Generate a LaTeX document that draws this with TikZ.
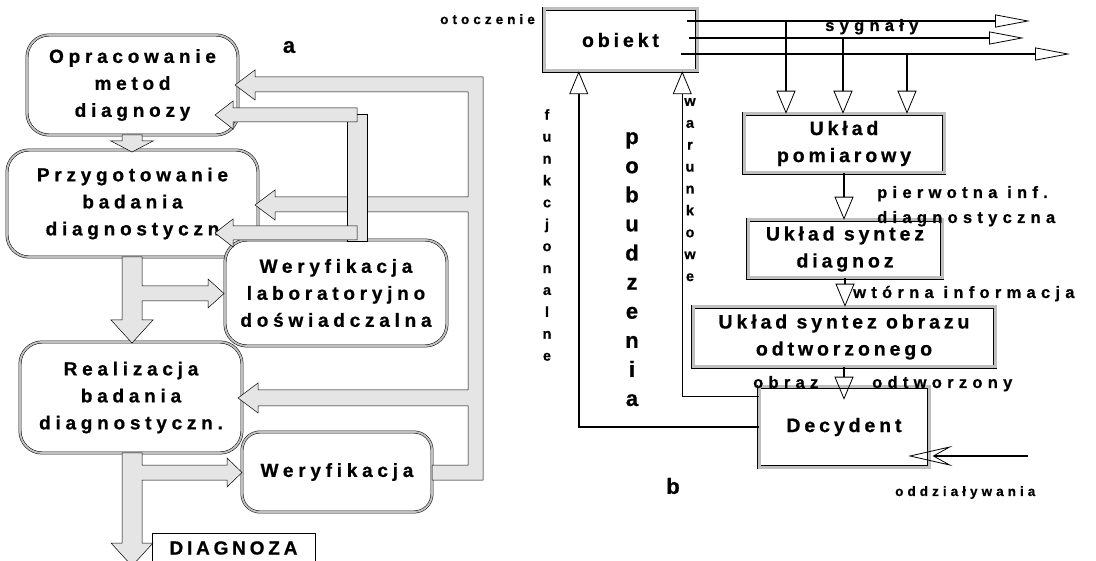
\documentclass[tikz,border=0pt]{standalone}
\usepackage{fontspec}
\setmainfont{Liberation Sans}[BoldFeatures={FakeBold=0.7}]
\newfontfamily\lsA{Liberation Sans}[LetterSpace=25, BoldFeatures={FakeBold=0.7}]
\newfontfamily\lsB{Liberation Sans}[LetterSpace=20, BoldFeatures={FakeBold=0.7}]
\newfontfamily\lsC{Liberation Sans}[LetterSpace=32, BoldFeatures={FakeBold=0.7}]
\newfontfamily\lsD{Liberation Sans}[LetterSpace=30, BoldFeatures={FakeBold=0.7}]
\usetikzlibrary{arrows.meta,calc}
\tikzset{
 rbox/.style={draw=black, line width=0.5pt, double=gray!50, double distance=1.9pt, rounded corners=22pt, fill=white, inner sep=0pt, align=center, font=\lsA\bfseries\fontsize{19}{27}\selectfont},
 sbox/.style={draw=black, line width=0.5pt, double=gray!50, double distance=3pt, fill=white, inner sep=0pt, align=center, font=\lsB\bfseries\fontsize{19.5}{27}\selectfont},
 fat/.style={draw=black, line width=0.5pt, fill=gray!20},
 sig/.style={line width=1.5pt, -{Triangle[open, length=35pt, width=13pt, line width=0.8pt]}},
 drop/.style={line width=1.5pt, -{Triangle[open, length=23pt, width=19pt, line width=0.8pt]}},
 lbl/.style={font=\lsC\bfseries\fontsize{16.5}{25}\selectfont, inner sep=0pt},
 slbl/.style={font=\lsD\bfseries\fontsize{13.5}{20}\selectfont, inner sep=0pt},
 vtxt/.style={align=center, inner sep=0pt, anchor=north},
}
\begin{document}
\begin{tikzpicture}[x=1pt,y=-1pt]
\useasboundingbox (0,0) rectangle (1096,561);
\clip (0,0) rectangle (1096,561);
\fill[white] (0,0) rectangle (1096,561);

% ---------- left diagram (a) ----------
\node[rbox, minimum width=211pt, minimum height=100pt] (m1) at (132.5,85) {Opracowanie\\metod\\diagnozy};
\node[rbox, minimum width=251pt, minimum height=107pt] (m2) at (132.5,203.5) {Przygotowanie\\badania\\diagnostyczn};
\node[rbox, minimum width=222pt, minimum height=106pt] (m3) at (336,293) {Weryfikacja\\laboratoryjno\\doświadczalna};
\node[rbox, minimum width=222pt, minimum height=111pt] (m4) at (131,397.5) {Realizacja\\badania\\diagnostyczn.};
\node[rbox, minimum width=190pt, minimum height=80pt, rounded corners=18pt] (m5) at (337,472) {Weryfikacja};
\node[draw, line width=0.8pt, fill=white, minimum width=163pt, minimum height=30pt, inner sep=0pt, font=\lsB\bfseries\fontsize{19}{20}\selectfont] (dg) at (233.5,548) {DIAGNOZA};

\node[font=\bfseries\fontsize{22}{22}\selectfont, inner sep=0pt] (la) at (289,47) {a};

% outer feedback loop
\draw[fat] (235,85) -- (255,70) -- (255,77) -- (483,77) -- (483,480) -- (432,480) -- (432,465)
  -- (468,465) -- (468,406) -- (258,406) -- (258,413) -- (238,398) -- (258,383) -- (258,390)
  -- (468,390) -- (468,212) -- (275,212) -- (275,220) -- (255,205) -- (275,190) -- (275,197)
  -- (468,197) -- (468,92) -- (255,92) -- (255,100) -- cycle;
% inner feedback loop
\draw[fat] (347,114) rectangle (367,241);
\draw[fat] (357,108) -- (233,108) -- (233,101) -- (215,115) -- (233,129) -- (233,122) -- (357,122) -- cycle;
\draw[fat] (357,226) -- (233,226) -- (233,219) -- (215,233) -- (233,247) -- (233,240) -- (357,240) -- cycle;
% main flow
\draw[fat] (122,135) -- (142,135) -- (142,141) -- (153,141) -- (132,152) -- (111,141) -- (122,141) -- cycle;
\draw[fat] (122,257) -- (142,257) -- (142,286) -- (208,286) -- (208,279) -- (224,293.5) -- (208,308)
  -- (208,301) -- (142,301) -- (142,320) -- (153,320) -- (132,343) -- (111,320) -- (122,320) -- cycle;
\draw[fat] (122,453) -- (142,453) -- (142,465) -- (227,465) -- (227,458) -- (242,472.5) -- (227,487)
  -- (227,480) -- (142,480) -- (142,543) -- (153,543) -- (132,566) -- (111,543) -- (122,543) -- cycle;

% ---------- right diagram (b) ----------
\node[sbox, minimum width=153pt, minimum height=62pt] (ob) at (620.5,40) {obiekt};
\node[sbox, minimum width=200pt, minimum height=59pt] (pom) at (844,143.5) {Układ\\pomiarowy};
\node[sbox, minimum width=194pt, minimum height=58pt] (sd) at (845,249) {Układ syntez\\diagnoz};
\node[sbox, minimum width=302pt, minimum height=60pt] (so) at (844,337) {Układ syntez obrazu\\odtworzonego};
\node[sbox, minimum width=170pt, minimum height=80pt] (dec) at (844,427) {Decydent};

\node[slbl, anchor=base west] (oto) at (440,24) {otoczenie};
\node[lbl, anchor=base west] (syg) at (825,31) {sygnały};

\coordinate (s1a) at (687,21); \coordinate (s1b) at (1030,21);
\coordinate (s2a) at (689,38); \coordinate (s2b) at (1024,38);
\coordinate (s3a) at (681,54); \coordinate (s3b) at (1070,54);
\draw[sig] (s1a) -- (s1b);
\draw[sig] (s2a) -- (s2b);
\draw[sig] (s3a) -- (s3b);
\coordinate (d1) at (786,21);
\coordinate (d2) at (843,38);
\coordinate (d3) at (907,54);
\draw[drop] (d1) -- (d1 |- pom.north);
\draw[drop] (d2) -- (d2 |- pom.north);
\draw[drop] (d3) -- (d3 |- pom.north);

\draw[drop] (pom.south) -- (pom.south |- sd.north);
\draw[drop] (sd.south) -- (sd.south |- so.north);
\draw[drop] (so.south) -- ($(so.south |- dec.north)+(0,13)$);

\draw[drop] (dec.west) -| ($(ob.south west)+(35,0)$);
\draw[drop] ($(dec.north west)+(0,10)$) -| ($(ob.south east)+(-15,0)$);

\coordinate (oz) at (1028,456);
\draw[line width=1.5pt, -{Stealth[open, length=44pt, width=20pt, inset=18pt, line width=0.8pt]}] (oz) -- ($(dec.east |- oz)+(-21,0)$);

\node[lbl, anchor=base west] (pi1) at (877,198) {pierwotna inf.};
\node[lbl, anchor=base west] (pi2) at (877,223) {diagnostyczna};
\node[lbl, anchor=base west] (wt) at (853,298) {wtórna informacja};
\node[lbl, anchor=base west] (ob1) at (753,388) {obraz};
\node[lbl, anchor=base west] (ob2) at (872,388) {odtworzony};
\node[slbl, anchor=base west] (odd) at (895,496) {oddziaływania};

\node[vtxt, font=\bfseries\fontsize{14.5}{21.9}\selectfont] (fun) at (547,109) {f\\u\\n\\k\\c\\j\\o\\n\\a\\l\\n\\e};
\node[vtxt, font=\bfseries\fontsize{22}{29.1}\selectfont] (pob) at (632,132) {p\\o\\b\\u\\d\\z\\e\\n\\i\\a};
\node[vtxt, font=\bfseries\fontsize{14.5}{21.9}\selectfont] (war) at (690,98) {w\\a\\r\\u\\n\\k\\o\\w\\e};

\node[font=\bfseries\fontsize{22}{22}\selectfont, inner sep=0pt] (lb) at (673,486) {b};
\end{tikzpicture}
\end{document}
